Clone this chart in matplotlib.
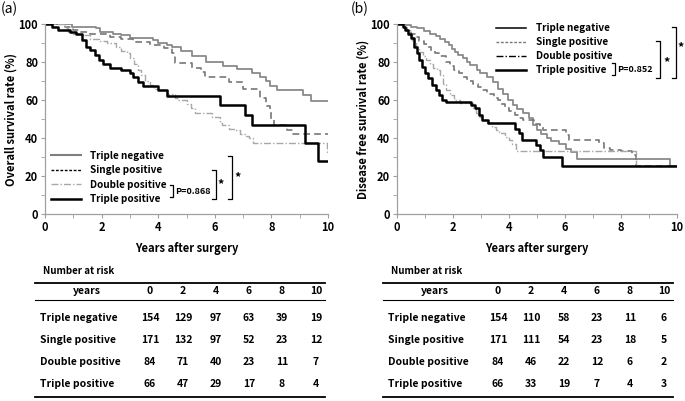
import matplotlib
matplotlib.use("Agg")
import matplotlib.pyplot as plt
from matplotlib.lines import Line2D
import numpy as np

plt.rcParams['font.family'] = ['Noto Sans CJK JP', 'DejaVu Sans']
plt.rcParams['font.weight'] = 'bold'

# ---------------- data ----------------
groups = ["Triple negative", "Single positive", "Double positive", "Triple positive"]
years = [0, 2, 4, 6, 8, 10]

# Panel (a): overall survival (step curves: time, survival %)
os_tn_t = [0, 0.94, 1.8, 1.95, 2.4, 2.7, 3.0, 3.8, 4.0, 4.3, 4.5, 4.8, 5.2, 5.7, 6.3, 6.8, 7.3, 7.6, 7.8, 7.95, 8.2, 9.1, 9.4, 10]
os_tn_s = [100, 98.6, 97.7, 96, 95, 94, 92.5, 91.5, 90, 89, 88, 86, 83, 80, 78, 76.3, 74, 72.3, 70, 67.6, 65.3, 62.6, 59.5, 59.5]
os_sp_t = [0, 0.7, 1.0, 1.2, 1.6, 2.3, 2.7, 3.1, 3.7, 4.2, 4.5, 4.6, 5.2, 5.5, 5.65, 6.5, 7.0, 7.6, 7.8, 7.95, 8.0, 8.1, 8.55, 8.75, 10]
os_sp_s = [100, 98.6, 96.8, 96, 95, 93.3, 92, 90.7, 89, 87.2, 84.6, 79.3, 77, 75, 72.3, 69.6, 65.8, 60.9, 57, 53.8, 50, 46.8, 44.2, 42, 42]
os_dp_t = [0, 0.7, 0.8, 1.0, 1.3, 1.6, 1.9, 2.2, 2.5, 2.7, 2.9, 3.0, 3.15, 3.3, 3.4, 3.55, 3.7, 3.85, 4.0, 4.3, 4.6, 4.7, 5.0, 5.15, 5.3, 5.9, 6.2, 6.25, 6.5, 6.7, 6.9, 7.1, 7.2, 7.35, 9.95, 10]
os_dp_s = [100, 98, 96, 95, 94, 92, 91, 90, 88, 86, 85, 82, 79, 76, 73, 70, 68, 66, 65, 63, 61, 60, 58, 56, 53, 51.2, 48, 46.8, 45, 44, 42, 41, 40, 37.2, 32, 32]
os_tp_t = [0, 0.25, 0.45, 0.9, 1.1, 1.3, 1.45, 1.6, 1.75, 1.9, 2.05, 2.3, 2.7, 3.0, 3.1, 3.3, 3.45, 4.0, 4.3, 6.2, 7.05, 7.3, 9.2, 9.65, 10]
os_tp_s = [100, 98.5, 97, 96, 94.5, 91.5, 88, 86.3, 83.7, 81, 79, 77, 76, 74, 72.3, 69.6, 67.6, 65.3, 62, 57.5, 52, 47, 37.5, 28, 28]

# Panel (b): disease free survival
dfs_tn_t = [0, 0.3, 0.5, 0.72, 0.95, 1.19, 1.4, 1.54, 1.7, 1.85, 1.95, 2.07, 2.19, 2.37, 2.5, 2.6, 2.85, 2.96, 3.2, 3.43, 3.6, 3.8, 3.95, 4.14, 4.3, 4.5, 4.7, 4.84, 5.0, 5.15, 5.35, 5.5, 5.8, 6.05, 6.2, 6.43, 9.75, 10]
dfs_tn_s = [100, 99.3, 98.6, 97.7, 96.3, 95, 93.5, 92, 90.5, 89, 87, 85.5, 83.5, 82, 80, 78.4, 76, 74, 72, 69.6, 66, 63, 60, 57.5, 55, 53, 50.5, 47, 44, 42, 40, 38.5, 37, 34, 32.5, 29, 25, 25]
dfs_sp_t = [0, 0.2, 0.35, 0.5, 0.65, 0.8, 0.95, 1.1, 1.2, 1.35, 1.5, 1.75, 1.9, 2.05, 2.2, 2.35, 2.5, 2.7, 2.9, 3.0, 3.2, 3.45, 3.6, 3.7, 3.85, 4.0, 4.2, 4.35, 4.5, 4.9, 5.1, 5.2, 6.05, 6.15, 7.2, 7.4, 7.6, 8.0, 8.4, 8.55, 10]
dfs_sp_s = [100, 98, 96.5, 95, 93, 91, 89.5, 88, 86, 85, 83, 80, 78, 76, 74, 72, 70, 68.5, 67, 65, 63, 61, 60, 58, 56, 54, 52, 50.5, 49.5, 47.5, 46, 44, 41.5, 39, 37.5, 35, 33.5, 33, 31, 25, 25]
dfs_dp_t = [0, 0.3, 0.45, 0.55, 0.68, 0.8, 0.92, 1.05, 1.17, 1.28, 1.42, 1.52, 1.64, 1.76, 1.88, 2.05, 2.25, 2.72, 2.83, 2.94, 3.05, 3.2, 3.4, 3.54, 3.66, 3.85, 4.0, 4.12, 4.24, 8.55, 10]
dfs_dp_s = [100, 97, 94, 91, 88, 85.5, 83, 81, 79, 77, 76, 73, 68.5, 65.5, 62.5, 60, 58.5, 56, 53, 51, 49.5, 48, 46, 44, 42.5, 40.5, 39, 37, 33, 25, 25]
dfs_tp_t = [0, 0.2, 0.3, 0.4, 0.5, 0.62, 0.72, 0.8, 0.9, 1.0, 1.12, 1.25, 1.38, 1.5, 1.62, 1.75, 2.63, 2.8, 2.93, 3.05, 3.25, 4.22, 4.35, 4.47, 4.97, 5.1, 5.23, 5.88, 10]
dfs_tp_s = [100, 98.6, 97, 95, 92.5, 88, 84.6, 81, 77.5, 74, 71.4, 67.9, 65.3, 62.6, 60, 58.8, 57.4, 55.6, 52, 49.5, 47.7, 45, 42.6, 39, 36.3, 33.7, 30, 25, 25]

# Number at risk
risk_os_tn = [154, 129, 97, 63, 39, 19]
risk_os_sp = [171, 132, 97, 52, 23, 12]
risk_os_dp = [84, 71, 40, 23, 11, 7]
risk_os_tp = [66, 47, 29, 17, 8, 4]
risk_dfs_tn = [154, 110, 58, 23, 11, 6]
risk_dfs_sp = [171, 111, 54, 23, 18, 5]
risk_dfs_dp = [84, 46, 22, 12, 6, 2]
risk_dfs_tp = [66, 33, 19, 7, 4, 3]

p_os = "P=0.868"
p_dfs = "P=0.852"

# ---------------- figure ----------------
W, H = 685, 401
fig = plt.figure(figsize=(W / 100, H / 100), dpi=100)


def fx(x):
    return x / W


def fy(y):
    return 1 - y / H


def hline(x0, x1, y, lw=1.0, color='black'):
    fig.add_artist(Line2D([fx(x0), fx(x1)], [fy(y), fy(y)], lw=lw, color=color,
                          transform=fig.transFigure))


def bracket(x, y0, y1, tick=4, lw=0.9):
    fig.add_artist(Line2D([fx(x - tick), fx(x), fx(x), fx(x - tick)],
                          [fy(y0), fy(y0), fy(y1), fy(y1)], lw=lw, color='black',
                          transform=fig.transFigure))


FS = 8
LFS = 7.2
styles = [
    dict(color='#8a8a8a', lw=1.3, ls='-'),
    dict(color='#777777', lw=1.2, ls=(0, (4, 2.5))),
    dict(color='#a8a8a8', lw=1.0, ls=(0, (5, 1.5, 1, 1.5))),
    dict(color='black', lw=1.8, ls='-'),
]


def setup_axes(ax, ylabel):
    ax.set_xlim(0, 10)
    ax.set_ylim(0, 100)
    for s in ['top', 'right']:
        ax.spines[s].set_visible(False)
    for s in ['left', 'bottom']:
        ax.spines[s].set_color('#a0a0a0')
        ax.spines[s].set_linewidth(0.9)
    ax.set_xticks(years)
    ax.set_xticks(range(0, 11), minor=True)
    ax.set_yticks(range(0, 101, 20))
    ax.set_yticks(range(0, 101, 10), minor=True)
    ax.tick_params(which='both', direction='out', color='#a0a0a0', length=3,
                   labelsize=FS, pad=2)
    for lab in ax.get_xticklabels() + ax.get_yticklabels():
        lab.set_fontweight('bold')
    ax.set_xlabel("Years after surgery", fontsize=FS, fontweight='bold', labelpad=6)
    ax.set_ylabel(ylabel, fontsize=FS, fontweight='bold', labelpad=1)


# Panel (a)
axa = fig.add_axes([fx(45), fy(214), (328 - 45) / W, (214 - 24) / H])
curves_a = [(os_tn_t, os_tn_s), (os_sp_t, os_sp_s), (os_dp_t, os_dp_s), (os_tp_t, os_tp_s)]
for (t, s), st in zip(curves_a, styles):
    axa.step(t, s, where='post', color=st['color'], lw=st['lw'], ls=st['ls'])
setup_axes(axa, "Overall survival rate (%)")

leg_a = [
    Line2D([], [], color='#7f7f7f', lw=1.5, ls='-'),
    Line2D([], [], color='black', lw=1.0, ls=(0, (2, 1.2))),
    Line2D([], [], color='#a8a8a8', lw=1.0, ls=(0, (5, 1.5, 1, 1.5))),
    Line2D([], [], color='black', lw=1.8, ls='-'),
]
axa.legend(leg_a, groups, loc='upper left', bbox_to_anchor=(0.02, 0.333),
           frameon=False, handlelength=3.0, handletextpad=0.95,
           labelspacing=0.45, borderaxespad=0, borderpad=0,
           prop=dict(weight='bold', size=LFS))

# Panel (b)
axb = fig.add_axes([fx(397), fy(214), (677 - 397) / W, (214 - 24) / H])
curves_b = [(dfs_tn_t, dfs_tn_s), (dfs_sp_t, dfs_sp_s), (dfs_dp_t, dfs_dp_s), (dfs_tp_t, dfs_tp_s)]
for (t, s), st in zip(curves_b, styles):
    axb.step(t, s, where='post', color=st['color'], lw=st['lw'], ls=st['ls'])
setup_axes(axb, "Disease free survival rate (%)")

leg_b = [
    Line2D([], [], color='black', lw=1.1, ls='-'),
    Line2D([], [], color='#777777', lw=1.0, ls=(0, (2, 1.2))),
    Line2D([], [], color='black', lw=1.0, ls=(0, (5, 1.5, 1, 1.5))),
    Line2D([], [], color='black', lw=1.8, ls='-'),
]
axb.legend(leg_b, groups, loc='upper left', bbox_to_anchor=(0.355, 1.005),
           frameon=False, handlelength=3.0, handletextpad=0.95,
           labelspacing=0.4, borderaxespad=0, borderpad=0,
           prop=dict(weight='bold', size=LFS))

# panel labels
fig.text(fx(1), fy(9), "(a)", fontsize=10, fontweight='normal', va='center', ha='left')
fig.text(fx(351), fy(9), "(b)", fontsize=10, fontweight='normal', va='center', ha='left')

# significance brackets panel (a)
bracket(173, 185, 197, tick=3)
fig.text(fx(175), fy(191), p_os, fontsize=6.5, va='center', ha='left')
bracket(216, 170, 199)
fig.text(fx(221), fy(185), "*", fontsize=9, va='center', ha='center')
bracket(232, 156, 199)
fig.text(fx(238), fy(178), "*", fontsize=9, va='center', ha='center')

# significance brackets panel (b)
bracket(615, 63, 75, tick=3)
fig.text(fx(617), fy(70), p_dfs, fontsize=6.5, va='center', ha='left')
bracket(660, 41, 78)
fig.text(fx(667), fy(63), "*", fontsize=9, va='center', ha='center')
bracket(676, 27, 78)
fig.text(fx(681), fy(48), "*", fontsize=9, va='center', ha='center')


# ---------------- number at risk tables ----------------
def draw_table(x0, risks):
    # x0 = left edge of rule
    fig.text(fx(x0 + 8), fy(271), "Number at risk", fontsize=7, va='center', ha='left')
    hline(x0, x0 + 290, 283, lw=1.3)
    hline(x0, x0 + 290, 300, lw=0.8)
    hline(x0, x0 + 290, 397, lw=1.3)
    colx = [x0 + 115, x0 + 148, x0 + 181, x0 + 214, x0 + 247, x0 + 281]
    fig.text(fx(x0 + 52), fy(291), "years", fontsize=7.5, va='center', ha='center')
    for cx, yr in zip(colx, years):
        fig.text(fx(cx), fy(291), str(yr), fontsize=7.5, va='center', ha='center')
    rows_y = [318, 340, 362, 384]
    for ry, g, vals in zip(rows_y, groups, risks):
        fig.text(fx(x0 + 5), fy(ry), g, fontsize=7.5, va='center', ha='left')
        for cx, v in zip(colx, vals):
            fig.text(fx(cx), fy(ry), str(v), fontsize=7.5, va='center', ha='center')


draw_table(35, [risk_os_tn, risk_os_sp, risk_os_dp, risk_os_tp])
draw_table(383, [risk_dfs_tn, risk_dfs_sp, risk_dfs_dp, risk_dfs_tp])

fig.savefig("out.png", dpi=100)
